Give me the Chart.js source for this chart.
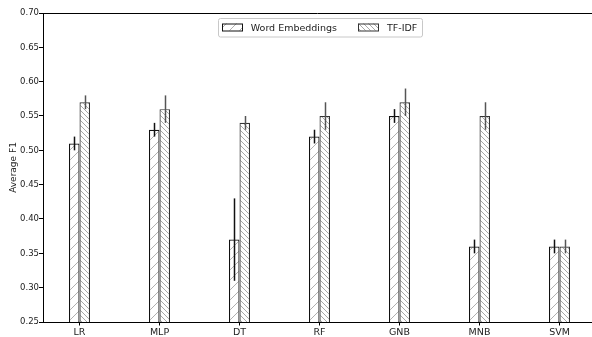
<!DOCTYPE html>
<html>
<head>
<meta charset="utf-8">
<script src="https://cdn.jsdelivr.net/npm/chart.js@4.4.0/dist/chart.umd.min.js"></script>
<style>
  html, body { margin: 0; padding: 0; background: #fff; overflow: hidden; }
  #wrap { width: 592px; height: 337px; position: relative; }
</style>
</head>
<body>
<div id="wrap"><canvas id="chart1"></canvas></div>
<script>
// categories and values
const categories = ["LR", "MLP", "DT", "RF", "GNB", "MNB", "SVM"];
const embeddings = [0.51, 0.53, 0.37, 0.52, 0.55, 0.36, 0.36];
const embeddingsErr = [0.01, 0.01, 0.06, 0.01, 0.01, 0.01, 0.01];
const tfidf = [0.57, 0.56, 0.54, 0.55, 0.57, 0.55, 0.36];
const tfidfErr = [0.01, 0.02, 0.01, 0.02, 0.02, 0.02, 0.01];
const yTicks = [0.25, 0.30, 0.35, 0.40, 0.45, 0.50, 0.55, 0.60, 0.65, 0.70];

const FONT = "'DejaVu Sans', sans-serif";

// hatch patterns, like matplotlib '//' and '\\\\'
function hatch(size, forward, color) {
  const c = document.createElement("canvas");
  c.width = size; c.height = size;
  const g = c.getContext("2d");
  g.fillStyle = "#fff";
  g.fillRect(0, 0, size, size);
  g.strokeStyle = color;
  g.lineWidth = 1;
  g.beginPath();
  for (let k = -1; k <= 1; k++) {
    if (forward) {
      g.moveTo(k * size, size); g.lineTo(k * size + size, 0);
    } else {
      g.moveTo(k * size, 0); g.lineTo(k * size + size, size);
    }
  }
  g.stroke();
  return g.createPattern(c, "repeat");
}

const ctx = document.getElementById("chart1").getContext("2d");
const patWE = hatch(10, true, "#b0b0b0");
const patTF = hatch(5, false, "#a8a8a8");

const errors = [embeddingsErr, tfidfErr];
const errColors = ["#111", "#555"];

// vertical error lines
const errorBars = {
  id: "errorBars",
  afterDatasetsDraw(chart) {
    const y = chart.scales.y;
    const c = chart.ctx;
    chart.data.datasets.forEach((ds, d) => {
      const meta = chart.getDatasetMeta(d);
      meta.data.forEach((bar, i) => {
        const v = ds.data[i].y;
        const e = errors[d][i];
        c.save();
        c.strokeStyle = errColors[d];
        c.lineWidth = 1.5;
        c.beginPath();
        c.moveTo(Math.round(bar.x) + 0.5, y.getPixelForValue(v + e));
        c.lineTo(Math.round(bar.x) + 0.5, y.getPixelForValue(v - e));
        c.stroke();
        c.restore();
      });
    });
  }
};

// top spine and framed legend inside the plot
const frameLegend = {
  id: "frameLegend",
  afterDraw(chart) {
    const c = chart.ctx;
    const a = chart.chartArea;
    const x = chart.scales.x;
    c.save();
    c.strokeStyle = "#000";
    c.lineWidth = 1;
    c.beginPath();
    c.moveTo(a.left, a.top + 0.5);
    c.lineTo(a.right, a.top + 0.5);
    c.stroke();

    c.font = "9.5px " + FONT;
    const items = chart.data.datasets.map(ds => ({
      label: ds.label, fill: ds.backgroundColor, edge: ds.borderColor,
      w: c.measureText(ds.label).width
    }));
    const sw = 20, gapIn = 9, gapOut = 21, pad = 4;
    let total = pad * 2;
    items.forEach((it, k) => { total += sw + gapIn + it.w + (k ? gapOut : 0); });
    const center = (x.getPixelForValue(-0.45625) + x.getPixelForValue(6.45625)) / 2;
    const left = center - total / 2;
    const top = a.top + 5.5, h = 18.5;
    c.beginPath();
    c.roundRect(Math.round(left) + 0.5, top, Math.round(total), h, 2);
    c.fillStyle = "rgba(255,255,255,0.85)";
    c.fill();
    c.strokeStyle = "#c8c8c8";
    c.stroke();
    let px = left + pad;
    items.forEach((it, k) => {
      if (k) px += gapOut;
      c.fillStyle = it.fill;
      c.fillRect(Math.round(px), top + 5, sw, 7);
      c.strokeStyle = it.edge;
      c.strokeRect(Math.round(px) + 0.5, top + 5.5, sw, 7);
      px += sw + gapIn;
      c.fillStyle = "#222";
      c.textBaseline = "middle";
      c.fillText(it.label, px, top + h / 2 + 0.5);
      px += it.w;
    });
    c.restore();
  }
};

new Chart(ctx, {
  type: "bar",
  data: {
    datasets: [
      {
        label: "Word Embeddings",
        data: categories.map((c, i) => ({ x: i, y: embeddings[i] })),
        backgroundColor: patWE,
        borderColor: "#111",
        borderWidth: 1.2
      },
      {
        label: "TF-IDF",
        data: categories.map((c, i) => ({ x: i, y: tfidf[i] })),
        backgroundColor: patTF,
        borderColor: "#333",
        borderWidth: 1.2
      }
    ]
  },
  options: {
    responsive: true,
    maintainAspectRatio: false,
    animation: false,
    categoryPercentage: 0.2625,
    barPercentage: 1,
    layout: { padding: { top: 13, right: 0, left: 0, bottom: 0 } },
    plugins: {
      legend: { display: false },
      tooltip: { enabled: false }
    },
    scales: {
      x: {
        type: "linear",
        offset: false,
        min: -0.45625,
        max: 6.40625,
        afterBuildTicks: s => { s.ticks = categories.map((c, i) => ({ value: i })); },
        afterFit: s => { s.height = 15; },
        ticks: {
          callback: v => categories[v],
          color: "#222",
          font: { family: FONT, size: 9.5 },
          padding: 1,
          maxRotation: 0,
          autoSkip: false
        },
        grid: { offset: false, drawOnChartArea: false, drawTicks: true, tickLength: 3.5, color: "#000" },
        border: { color: "#000", width: 1 }
      },
      y: {
        min: 0.25,
        max: 0.70,
        afterBuildTicks: s => { s.ticks = yTicks.map(v => ({ value: v })); },
        afterFit: s => { s.width = 43; },
        ticks: {
          callback: v => v.toFixed(2),
          color: "#222",
          font: { family: FONT, size: 8.5 },
          padding: 0
        },
        title: {
          display: true,
          text: "Average F1",
          color: "#222",
          font: { family: FONT, size: 9 },
          padding: { top: 8, bottom: 0 }
        },
        grid: { drawOnChartArea: false, drawTicks: true, tickLength: 4, color: "#000" },
        border: { color: "#000", width: 1 }
      }
    }
  },
  plugins: [errorBars, frameLegend]
});
</script>
</body>
</html>
